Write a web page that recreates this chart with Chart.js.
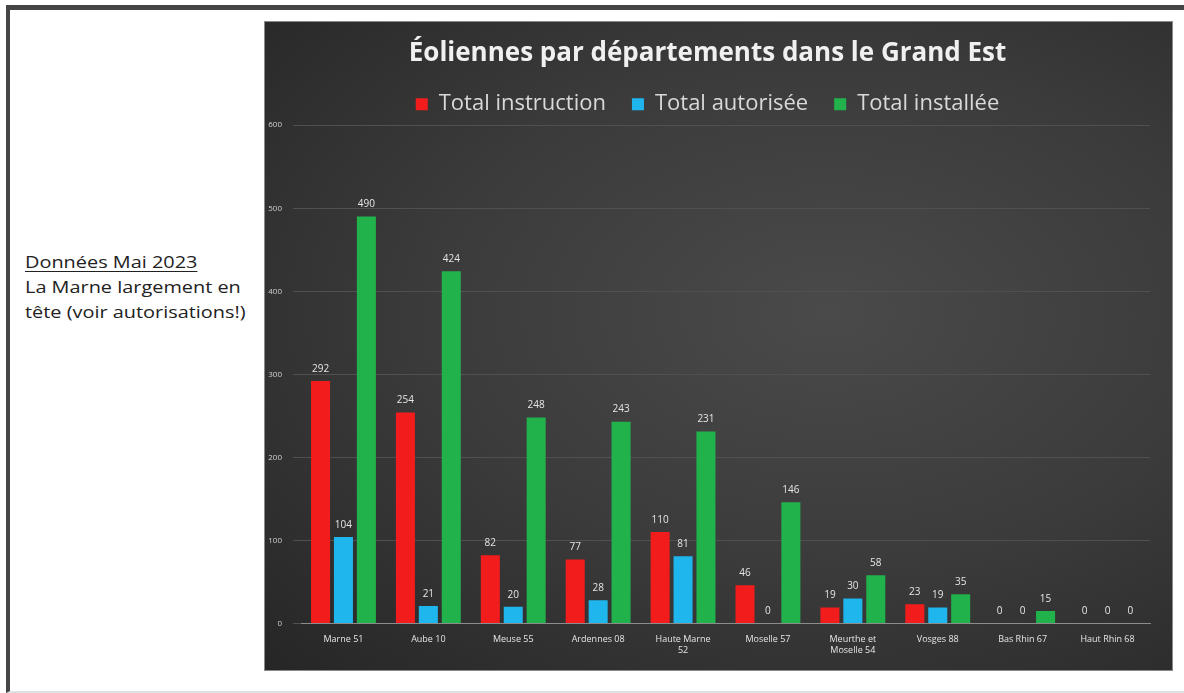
<!DOCTYPE html>
<html lang="fr">
<head>
  <meta charset="UTF-8">
  <title>Éoliennes par départements dans le Grand Est</title>
  <script src="https://cdn.jsdelivr.net/npm/chart.js"></script>
  <style>
    html, body {
      margin: 0;
      padding: 0;
      width: 1184px;
      height: 693px;
      background: #ffffff;
      overflow: hidden;
      font-family: "Open Sans", sans-serif;
    }
    .frame {
      position: absolute;
      left: 6px;
      top: 5px;
      width: 1180px;
      height: 681px;
      border-top: 5px solid #454545;
      border-left: 4px solid #454545;
      border-bottom: 2px solid #dbe3e3;
    }
    .note {
      position: absolute;
      left: 25px;
      top: 249px;
      font-size: 17px;
      line-height: 25px;
      color: #222;
      transform: scaleX(1.17);
      transform-origin: left top;
      white-space: nowrap;
    }
    .note u { text-decoration-thickness: 1px; text-underline-offset: 3px; }
    .panel {
      position: absolute;
      left: 264px;
      top: 21px;
      width: 909px;
      height: 650px;
      border: 1px solid #8a8a8a;
      box-sizing: border-box;
      background: radial-gradient(ellipse at 62% 45%, #4a4a4a 0%, #3b3b3b 50%, #262626 100%);
    }
    canvas { display: block; }
  </style>
</head>
<body>
  <div class="frame"></div>
  <div class="note">
    <u>Données Mai 2023</u><br>
    La Marne largement en<br>
    tête (voir autorisations!)
  </div>
  <div class="panel">
    <canvas id="chart" width="907" height="648"></canvas>
  </div>

  <script>
    const departements = ['Marne 51', 'Aube 10', 'Meuse 55', 'Ardennes 08', ['Haute Marne', '52'],
      'Moselle 57', ['Meurthe et', 'Moselle 54'], 'Vosges 88', 'Bas Rhin 67', 'Haut Rhin 68'];
    const totalInstruction = [292, 254, 82, 77, 110, 46, 19, 23, 0, 0];
    const totalAutorisee = [104, 21, 20, 28, 81, 0, 30, 19, 0, 0];
    const totalInstallee = [490, 424, 248, 243, 231, 146, 58, 35, 15, 0];
    const yTicks = [0, 100, 200, 300, 400, 500, 600];

    // valeurs au-dessus des barres
    const barLabels = {
      id: 'barLabels',
      afterDatasetsDraw(chart) {
        const ctx = chart.ctx;
        ctx.save();
        ctx.font = '10px "Open Sans", sans-serif';
        ctx.fillStyle = '#e6e6e6';
        ctx.textAlign = 'center';
        ctx.textBaseline = 'bottom';
        chart.data.datasets.forEach((ds, i) => {
          chart.getDatasetMeta(i).data.forEach((bar, j) => {
            ctx.fillText(ds.data[j], bar.x, bar.y - 7);
          });
        });
        ctx.restore();
      }
    };

    const ctx = document.getElementById('chart').getContext('2d');
    new Chart(ctx, {
      type: 'bar',
      data: {
        labels: departements,
        datasets: [
          { label: 'Total instruction', data: totalInstruction, backgroundColor: '#f21c1c' },
          { label: 'Total autorisée', data: totalAutorisee, backgroundColor: '#1fb6ee' },
          { label: 'Total installée', data: totalInstallee, backgroundColor: '#22b24c' }
        ]
      },
      options: {
        responsive: false,
        animation: false,
        categoryPercentage: 0.81,
        barPercentage: 0.83,
        layout: { padding: { left: 0, right: 22, top: 6, bottom: 11 } },
        plugins: {
          title: {
            display: true,
            text: 'Éoliennes par départements dans le Grand Est',
            color: '#f0f0f0',
            font: { family: '"Open Sans", sans-serif', size: 26, weight: 'bold' },
            padding: { top: 10, bottom: -2 }
          },
          legend: {
            labels: {
              color: '#d9d9d9',
              font: { family: '"Open Sans", sans-serif', size: 22 },
              boxWidth: 12,
              boxHeight: 12,
              padding: 26
            }
          },
          tooltip: { enabled: false }
        },
        scales: {
          x: {
            grid: { display: false },
            border: { color: '#8c8c8c', width: 1 },
            ticks: {
              color: '#e6e6e6',
              font: { family: '"Open Sans", sans-serif', size: 9 },
              maxRotation: 0,
              autoSkip: false
            }
          },
          y: {
            min: 0,
            max: 600,
            afterBuildTicks: (axis) => { axis.ticks = yTicks.map(v => ({ value: v })); },
            afterFit: (axis) => { axis.width = 36; },
            grid: { color: '#505050', lineWidth: 1 },
            border: { display: false },
            ticks: {
              color: '#d0d0d0',
              font: { family: '"Open Sans", sans-serif', size: 8 },
              padding: 11
            }
          }
        }
      },
      plugins: [barLabels]
    });
  </script>
</body>
</html>
